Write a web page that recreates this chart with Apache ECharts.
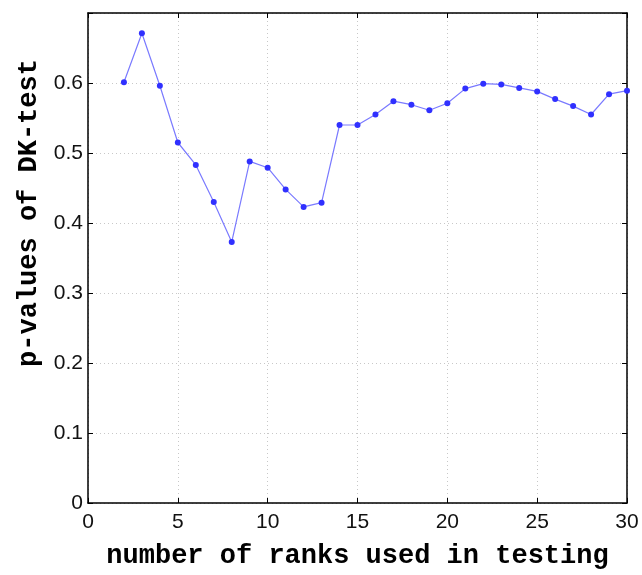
<!DOCTYPE html>
<html>
<head>
<meta charset="utf-8">
<script src="https://cdn.jsdelivr.net/npm/echarts@6/dist/echarts.min.js"></script>
<style>
  html, body { margin: 0; padding: 0; background: #fff; }
  #chart { width: 642px; height: 575px; }
</style>
</head>
<body>
<div id="chart"></div>
<script>
// number of ranks used in the test
const ranks = [2, 3, 4, 5, 6, 7, 8, 9, 10, 11, 12, 13, 14, 15, 16,
  17, 18, 19, 20, 21, 22, 23, 24, 25, 26, 27, 28, 29, 30];
// p-values of the DK-test for each rank count
const pValues = [0.601, 0.671, 0.596, 0.515, 0.483, 0.430, 0.373, 0.488, 0.479,
  0.448, 0.423, 0.429, 0.540, 0.540, 0.555, 0.574, 0.569, 0.561, 0.571,
  0.592, 0.599, 0.598, 0.593, 0.588, 0.577, 0.567, 0.555, 0.584, 0.589];
const xTicks = [0, 5, 10, 15, 20, 25, 30];
const yTicks = [0, 0.1, 0.2, 0.3, 0.4, 0.5, 0.6];

const tickFont = { fontFamily: 'Liberation Sans', fontSize: 21, color: '#111' };
const titleFont = { fontFamily: 'Liberation Mono', fontWeight: 'bold', fontSize: 27, color: '#000' };
const gridLine = { show: true, lineStyle: { color: '#c8c8c8', type: [1, 3], width: 1 } };
const frame = { show: true, onZero: false, lineStyle: { color: '#000', width: 1.5 } };

const chart = echarts.init(document.getElementById('chart'), null, { renderer: 'canvas' });
chart.setOption({
  animation: false,
  grid: { left: 88, right: 15, top: 13, bottom: 69, containLabel: false },
  xAxis: [{
    type: 'value', min: 0, max: 30, interval: 5,
    axisLine: frame,
    axisTick: { show: true, inside: true, length: 5, lineStyle: { color: '#000' } },
    axisLabel: Object.assign({ margin: 9, formatter: v => xTicks.includes(v) ? String(v) : '' }, tickFont),
    splitLine: gridLine,
    name: 'number of ranks used in testing',
    nameLocation: 'middle', nameGap: 40,
    nameTextStyle: titleFont
  }, {
    type: 'value', min: 0, max: 30, interval: 5, position: 'top',
    axisLine: frame,
    axisTick: { show: true, inside: true, length: 5, lineStyle: { color: '#000' } },
    axisLabel: { show: false }, splitLine: { show: false }
  }],
  yAxis: [{
    type: 'value', min: 0, max: 0.7, interval: 0.1,
    axisLine: frame,
    axisTick: { show: true, inside: true, length: 5, lineStyle: { color: '#000' } },
    axisLabel: Object.assign({ margin: 5, formatter: v => {
      const t = yTicks.find(y => Math.abs(y - v) < 1e-9);
      return t === undefined ? '' : String(t);
    } }, tickFont),
    splitLine: gridLine,
    name: 'p-values of DK-test',
    nameLocation: 'middle', nameGap: 44,
    nameTextStyle: Object.assign({ padding: [0, 0, 0, 90] }, titleFont)
  }, {
    type: 'value', min: 0, max: 0.7, interval: 0.1, position: 'right',
    axisLine: frame,
    axisTick: { show: true, inside: true, length: 5, lineStyle: { color: '#000' } },
    axisLabel: { show: false }, splitLine: { show: false }
  }],
  series: [{
    type: 'line',
    data: ranks.map((r, i) => [r, pValues[i]]),
    symbol: 'circle', symbolSize: 6,
    lineStyle: { color: '#7a7aff', width: 1.2 },
    itemStyle: { color: '#3030ff' }
  }]
});
</script>
</body>
</html>
